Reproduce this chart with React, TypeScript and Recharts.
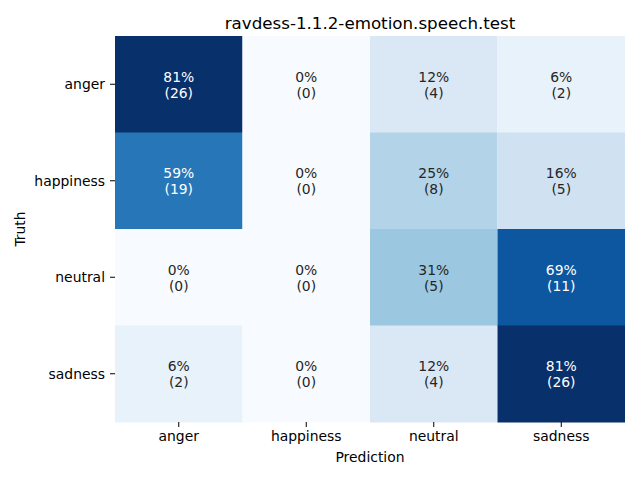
import React from 'react';
import { BarChart, Bar, XAxis, YAxis, Cell, LabelList } from 'recharts';

const categories = ['anger', 'happiness', 'neutral', 'sadness'];

// share of each truth row (percent, as printed) and raw counts
const angerPct = [81, 0, 12, 6];
const happinessPct = [59, 0, 25, 16];
const neutralPct = [0, 0, 31, 69];
const sadnessPct = [6, 0, 12, 81];

const angerCount = [26, 0, 4, 2];
const happinessCount = [19, 0, 8, 5];
const neutralCount = [0, 0, 5, 11];
const sadnessCount = [2, 0, 4, 26];

const pctRows = [angerPct, happinessPct, neutralPct, sadnessPct];
const countRows = [angerCount, happinessCount, neutralCount, sadnessCount];

// matplotlib "Blues"
const BLUES = ['#f7fbff', '#deebf7', '#c6dbef', '#9ecae1', '#6baed6', '#4292c6', '#2171b5', '#08519c', '#08306b'];

function hexToRgb(h: string) {
  return [1, 3, 5].map((i) => parseInt(h.slice(i, i + 2), 16));
}

function blues(t: number) {
  const x = Math.max(0, Math.min(1, t)) * (BLUES.length - 1);
  const i = Math.min(Math.floor(x), BLUES.length - 2);
  const f = x - i;
  const a = hexToRgb(BLUES[i]);
  const b = hexToRgb(BLUES[i + 1]);
  const c = a.map((v, k) => Math.round(v + (b[k] - v) * f));
  return { css: `rgb(${c[0]},${c[1]},${c[2]})`, rgb: c };
}

function luminance(rgb: number[]) {
  const lin = rgb.map((v) => {
    const s = v / 255;
    return s <= 0.03928 ? s / 12.92 : Math.pow((s + 0.055) / 1.055, 2.4);
  });
  return 0.2126 * lin[0] + 0.7152 * lin[1] + 0.0722 * lin[2];
}

const vmax = Math.max(...pctRows.flat());

// one row per truth class, each prediction column is a unit-width stacked segment
const data = categories.map((truth) => {
  const row: Record<string, string | number> = { truth };
  categories.forEach((_, j) => (row[`c${j}`] = 1));
  return row;
});

const FONT = '"DejaVu Sans", sans-serif';

function makeCellLabel(col: number) {
  return (props: any) => {
    const { x, y, width, height, index } = props;
    const pct = pctRows[index][col];
    const cnt = countRows[index][col];
    const fill = luminance(blues(pct / vmax).rgb) > 0.408 ? '#262626' : '#ffffff';
    const cx = x + width / 2;
    const cy = y + height / 2;
    return (
      <g>
        <text x={cx} y={cy - 8} textAnchor="middle" dominantBaseline="central" fill={fill} fontSize={13.9} fontFamily={FONT}>
          {`${pct}%`}
        </text>
        <text x={cx} y={cy + 8} textAnchor="middle" dominantBaseline="central" fill={fill} fontSize={13.9} fontFamily={FONT}>
          {`(${cnt})`}
        </text>
      </g>
    );
  };
}

function XLabel(props: any) {
  const { viewBox } = props;
  return (
    <text x={viewBox.x + viewBox.width / 2} y={viewBox.y + 35} textAnchor="middle" dominantBaseline="central" fill="#000" fontSize={13.9} fontFamily={FONT}>
      Prediction
    </text>
  );
}

function YLabel(props: any) {
  const { viewBox } = props;
  const x = viewBox.x + 20;
  const y = viewBox.y + viewBox.height / 2;
  return (
    <text x={x} y={y} transform={`rotate(-90, ${x}, ${y})`} textAnchor="middle" dominantBaseline="central" fill="#000" fontSize={13.9} fontFamily={FONT}>
      Truth
    </text>
  );
}

export default function App() {
  return (
    <div style={{ position: 'absolute', left: 0, top: 0, width: 640, height: 480, background: '#fff', fontFamily: FONT }}>
      <div style={{ position: 'absolute', left: 115, width: 510, top: 13, textAlign: 'center', fontSize: 16.7, lineHeight: '20px', color: '#000' }}>
        ravdess-1.1.2-emotion.speech.test
      </div>
      <BarChart
        width={640}
        height={480}
        data={data}
        layout="vertical"
        barCategoryGap={0}
        margin={{ top: 36, right: 15, bottom: 0, left: 0 }}
      >
        <XAxis
          type="number"
          domain={[0, 4]}
          ticks={[0.5, 1.5, 2.5, 3.5]}
          tickFormatter={(v: number) => categories[Math.floor(v)]}
          height={58}
          axisLine={false}
          tickSize={5}
          tickMargin={4}
          tickLine={{ stroke: '#000' }}
          tick={{ fill: '#000', fontSize: 13.9, fontFamily: FONT }}
          label={<XLabel />}
        />
        <YAxis
          type="category"
          dataKey="truth"
          width={115}
          axisLine={false}
          tickSize={5}
          tickMargin={5}
          tickLine={{ stroke: '#000' }}
          tick={{ fill: '#000', fontSize: 13.9, fontFamily: FONT }}
          label={<YLabel />}
        />
        {categories.map((_, j) => (
          <Bar key={j} dataKey={`c${j}`} stackId="m" isAnimationActive={false}>
            {pctRows.map((row, i) => (
              <Cell key={i} fill={blues(row[j] / vmax).css} />
            ))}
            <LabelList content={makeCellLabel(j)} />
          </Bar>
        ))}
      </BarChart>
    </div>
  );
}
